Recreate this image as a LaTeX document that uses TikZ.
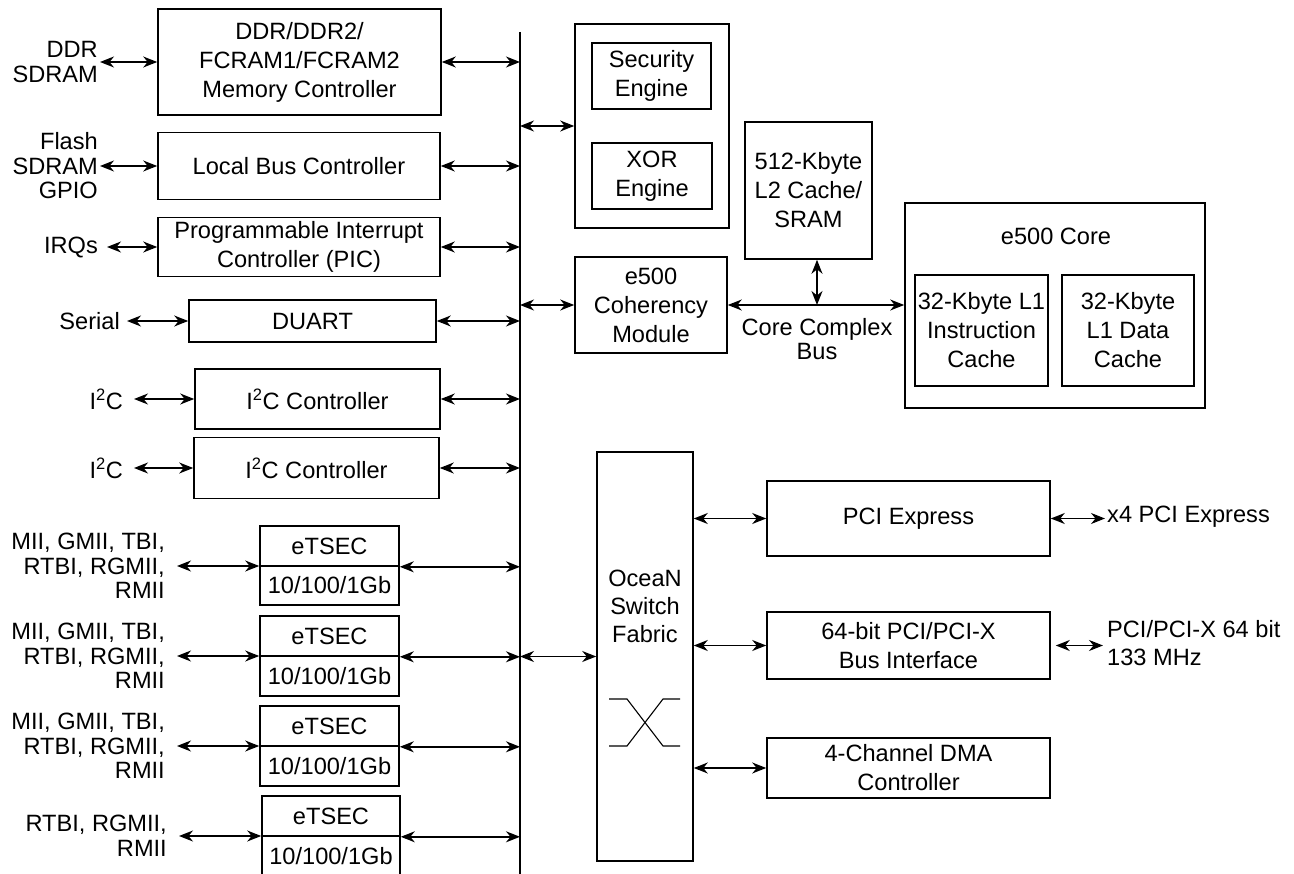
\documentclass[tikz,border=0pt]{standalone}
\usepackage{fontspec}
\setmainfont{Liberation Sans}
\usetikzlibrary{arrows.meta}
\newcommand\bfnt{\fontsize{23.6}{29}\selectfont}
\newcommand\lfnt{\fontsize{23.6}{24.5}\selectfont}
\begin{document}
\begin{tikzpicture}[x=1pt,y=-1pt,
  box/.style={draw, line width=1.6pt, align=center, inner sep=0pt, font=\bfnt},
  txt/.style={inner sep=0pt, align=center, font=\bfnt},
  lbl/.style={inner sep=0pt, font=\lfnt},
  arr/.style={line width=1.5pt, {Stealth[length=14pt,width=11pt,inset=4.5pt]}-{Stealth[length=14pt,width=11pt,inset=4.5pt]}},
  busline/.style={line width=1.6pt},
  xsym/.style={line width=1.1pt}]
\useasboundingbox (0,0) rectangle (1294,874);
\coordinate (bustop) at (520,32);
\coordinate (busbot) at (520,880);
\draw[busline] (bustop) -- (busbot);

% ---------- left column ----------
\node[box, minimum width=283pt, minimum height=106pt] (mem) at (299.5,62) {DDR/DDR2/\\FCRAM1/FCRAM2\\Memory Controller};
\node[lbl, anchor=east, align=right] (ldd) at (98,62) {DDR\\SDRAM};
\draw[arr] ([xshift=2pt]ldd.east) -- (ldd.east -| mem.west);
\draw[arr] (mem.east) -- (mem.east -| bustop);

\node[box, minimum width=282pt, minimum height=67pt] (lbc) at (299,166) {Local Bus Controller};
\node[lbl, anchor=east, align=right] (llb) at (98,166) {Flash\\SDRAM\\GPIO};
\draw[arr] ([xshift=2pt]llb.east) -- (lbc.west);
\draw[arr] (lbc.east) -- (lbc.east -| bustop);

\node[box, minimum width=282pt, minimum height=59pt] (pic) at (299,247) {Programmable Interrupt\\Controller (PIC)};
\node[lbl, anchor=east] (lirq) at (98,247) {IRQs};
\draw[arr] ([xshift=9pt]lirq.east) -- (pic.west);
\draw[arr] (pic.east) -- (pic.east -| bustop);

\node[box, minimum width=247pt, minimum height=42pt] (duart) at (312.5,321) {DUART};
\node[lbl, anchor=east] (lser) at (120,321) {Serial};
\draw[arr] ([xshift=7pt]lser.east) -- (duart.west);
\draw[arr] (duart.east) -- (duart.east -| bustop);

\node[box, minimum width=245pt, minimum height=60pt] (iica) at (317.5,399) {I\textsuperscript{2}C Controller};
\node[lbl, anchor=east] (liica) at (123,399) {I\textsuperscript{2}C};
\draw[arr] ([xshift=11pt]liica.east) -- (liica.east -| iica.west);
\draw[arr] (iica.east) -- (iica.east -| bustop);

\node[box, minimum width=245pt, minimum height=61pt] (iicb) at (316.5,468) {I\textsuperscript{2}C Controller};
\node[lbl, anchor=east] (liicb) at (123,468) {I\textsuperscript{2}C};
\draw[arr] ([xshift=11pt]liicb.east) -- (liicb.east -| iicb.west);
\draw[arr] (iicb.east) -- (iicb.east -| bustop);

% eTSECs
\node[box, minimum width=139pt, minimum height=40pt] (eat) at (329.5,546) {eTSEC};
\node[box, minimum width=139pt, minimum height=39pt] (eab) at (329.5,585.5) {10/100/1Gb};
\node[lbl, anchor=east, align=right] (lea) at (165,566) {MII, GMII, TBI,\\RTBI, RGMII,\\RMII};
\draw[arr] ([xshift=12pt]lea.east) -- (lea.east -| eat.south west);
\draw[arr] (eat.south east) -- (eat.south east -| bustop);

\node[box, minimum width=139pt, minimum height=40pt] (ebt) at (329.5,636) {eTSEC};
\node[box, minimum width=139pt, minimum height=40pt] (ebb) at (329.5,676) {10/100/1Gb};
\node[lbl, anchor=east, align=right] (leb) at (165,656) {MII, GMII, TBI,\\RTBI, RGMII,\\RMII};
\draw[arr] ([xshift=12pt]leb.east) -- (leb.east -| ebt.south west);
\draw[arr] (ebt.south east) -- (ebt.south east -| bustop);

\node[box, minimum width=139pt, minimum height=40pt] (ect) at (329.5,726) {eTSEC};
\node[box, minimum width=139pt, minimum height=40pt] (ecb) at (329.5,766) {10/100/1Gb};
\node[lbl, anchor=east, align=right] (lec) at (165,746) {MII, GMII, TBI,\\RTBI, RGMII,\\RMII};
\draw[arr] ([xshift=12pt]lec.east) -- (lec.east -| ect.south west);
\draw[arr] (ect.south east) -- (ect.south east -| bustop);

\node[box, minimum width=138pt, minimum height=40pt] (edt) at (331,816) {eTSEC};
\node[box, minimum width=138pt, minimum height=40pt] (edb) at (331,856) {10/100/1Gb};
\node[lbl, anchor=east, align=right] (led) at (167,836) {RTBI, RGMII,\\RMII};
\draw[arr] ([xshift=12pt]led.east) -- (led.east -| edt.south west);
\draw[arr] (edt.south east) -- (edt.south east -| bustop);

% ---------- upper right ----------
\node[box, minimum width=154pt, minimum height=204pt] (sec) at (652,126) {};
\node[box, minimum width=119pt, minimum height=66pt] (seng) at (651.5,76) {Security\\Engine};
\node[box, minimum width=120pt, minimum height=66pt] (xeng) at (652,176) {XOR\\Engine};
\draw[arr] (sec.west -| bustop) -- (sec.west);

\node[box, minimum width=127pt, minimum height=137pt] (ltwo) at (808.5,190.5) {512-Kbyte\\L2 Cache/\\SRAM};

\node[box, minimum width=152pt, minimum height=96pt] (coh) at (651,305) {e500\\Coherency\\Module};
\draw[arr] (coh.west -| bustop) -- (coh.west);

\node[box, minimum width=300pt, minimum height=205pt] (core) at (1055,305.5) {};
\node[txt] (coret) at (1056,236) {e500 Core};
\node[box, minimum width=133pt, minimum height=111pt] (lonei) at (981.5,330.5) {32-Kbyte L1\\Instruction\\Cache};
\node[box, minimum width=132pt, minimum height=111pt] (loned) at (1128,330.5) {32-Kbyte\\L1 Data\\Cache};

\draw[arr] (coh.east) -- (coh.east -| core.west);
\coordinate (ccbj) at (817,305);
\draw[arr] (ltwo.south -| ccbj) -- (ccbj);
\node[lbl, align=center] (ccb) at (817,339) {Core Complex\\Bus};

% ---------- lower right ----------
\node[box, minimum width=96pt, minimum height=409pt] (ocean) at (645,656.5) {};
\node[txt, font=\fontsize{23.6}{28}\selectfont] (oceant) at (645,606) {OceaN\\Switch\\Fabric};
\draw[xsym] (609,699) -- (627,699) -- (663,746) -- (680,746);
\draw[xsym] (609,746) -- (627,746) -- (663,699) -- (680,699);
\draw[arr] (ocean.west -| bustop) -- (ocean.west);

\node[box, minimum width=283pt, minimum height=75pt] (pcie) at (908.5,518.5) {PCI Express};
\node[box, minimum width=283pt, minimum height=67pt] (pcix) at (908.5,645.5) {64-bit PCI/PCI-X\\Bus Interface};
\node[box, minimum width=283pt, minimum height=60pt] (dma) at (908.5,768) {4-Channel DMA\\Controller};
\draw[arr] (pcie.west -| ocean.east) -- (pcie.west);
\draw[arr] (pcix.west -| ocean.east) -- (pcix.west);
\draw[arr] (dma.west -| ocean.east) -- (dma.west);

\node[lbl, anchor=west] (lxf) at (1107,517) {x4 PCI Express};
\draw[arr] (pcie.east) -- ([xshift=-2pt]pcie.east -| lxf.west);
\node[lbl, anchor=west, align=left, font=\fontsize{23.6}{28}\selectfont] (lpx) at (1107,643) {PCI/PCI-X 64 bit\\133 MHz};
\draw[arr] ([xshift=5pt]pcix.east) -- ([xshift=-4pt]pcix.east -| lpx.west);
\end{tikzpicture}
\end{document}
